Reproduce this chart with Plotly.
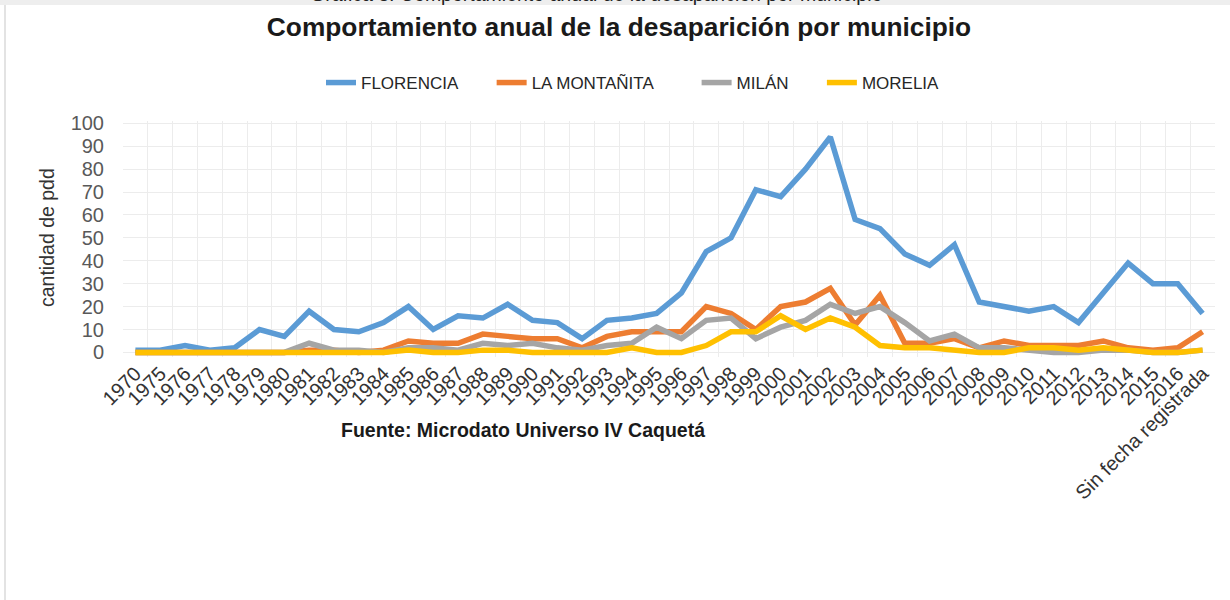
import plotly.graph_objects as go

categorias = ["1970", "1975", "1976", "1977", "1978", "1979", "1980", "1981", "1982", "1983",
              "1984", "1985", "1986", "1987", "1988", "1989", "1990", "1991", "1992", "1993",
              "1994", "1995", "1996", "1997", "1998", "1999", "2000", "2001", "2002", "2003",
              "2004", "2005", "2006", "2007", "2008", "2009", "2010", "2011", "2012", "2013",
              "2014", "2015", "2016", "Sin fecha registrada"]

florencia = [1, 1, 3, 1, 2, 10, 7, 18, 10, 9,
             13, 20, 10, 16, 15, 21, 14, 13, 6, 14,
             15, 17, 26, 44, 50, 71, 68, 80, 94, 58,
             54, 43, 38, 47, 22, 20, 18, 20, 13, 26,
             39, 30, 30, 17]
la_montanita = [0, 0, 0, 0, 0, 0, 0, 1, 1, 0,
                1, 5, 4, 4, 8, 7, 6, 6, 2, 7,
                9, 9, 9, 20, 17, 10, 20, 22, 28, 12,
                25, 4, 4, 6, 2, 5, 3, 3, 3, 5,
                2, 1, 2, 9]
milan = [0, 0, 0, 0, 0, 0, 0, 4, 1, 1,
         0, 2, 2, 1, 4, 3, 4, 2, 1, 3,
         4, 11, 6, 14, 15, 6, 11, 14, 21, 17,
         20, 13, 5, 8, 2, 2, 1, 0, 0, 1,
         1, 0, 0, 1]
morelia = [0, 0, 0, 0, 0, 0, 0, 0, 0, 0,
           0, 1, 0, 0, 1, 1, 0, 0, 0, 0,
           2, 0, 0, 3, 9, 9, 16, 10, 15, 11,
           3, 2, 2, 1, 0, 0, 2, 2, 1, 2,
           1, 0, 0, 1]

nombres = ["FLORENCIA", "LA MONTAÑITA", "MILÁN", "MORELIA"]
colores = ["#5B9BD5", "#ED7D31", "#A5A5A5", "#FFC000"]
valores = [florencia, la_montanita, milan, morelia]
relleno = [6, 8, 6, 0]

FONT = "Liberation Sans, Arial, sans-serif"

fig = go.Figure()
for nombre, vals, color, n in zip(nombres, valores, colores, relleno):
    fig.add_trace(go.Scatter(x=categorias, y=vals, name=nombre + "\u00a0" * n, mode="lines",
                             line=dict(color=color, width=5.5)))

W, H = 1230, 600
L, R, T, B = 123, 15, 121, 243
ph = H - T - B


def py(y):
    return (H - B - y) / ph


def px(x):
    return (x - L) / (W - L - R)


fig.update_layout(
    width=W, height=H,
    margin=dict(l=L, r=R, t=T, b=B, autoexpand=False),
    paper_bgcolor="white", plot_bgcolor="white",
    font=dict(family=FONT, color="#404040"),
    title=dict(text="<b>Comportamiento anual de la desaparición por municipio</b>",
               x=619 / W, xref="container", xanchor="center",
               y=1 - 27 / H, yref="container", yanchor="middle",
               font=dict(size=26.3, color="#1a1a1a", family=FONT)),
    legend=dict(orientation="h", x=321 / W, xref="container", xanchor="left",
                y=1 - 83 / H, yref="container", yanchor="middle",
                font=dict(size=17, color="#262626", family=FONT),
                itemwidth=30, traceorder="normal"),
    xaxis=dict(type="category", range=[-0.5, len(categorias) - 0.5],
               tickson="boundaries", showgrid=True, gridcolor="#ececec", gridwidth=1,
               tickangle=-45, ticks="", showline=False, zeroline=False,
               tickfont=dict(size=20, color="#333333", family=FONT)),
    yaxis=dict(range=[-2, 101], tickmode="array", tickvals=list(range(0, 101, 10)),
               showgrid=True, gridcolor="#ececec", gridwidth=1, zeroline=False,
               showline=False, ticks="", ticklabelstandoff=18,
               tickfont=dict(size=20, color="#595959", family=FONT)),
    showlegend=True,
)

fig.add_annotation(text="cantidad de pdd", xref="paper", yref="paper",
                   x=px(47), y=py(238), textangle=-90, showarrow=False,
                   xanchor="center", yanchor="middle",
                   font=dict(size=19.5, color="#333333", family=FONT))
fig.add_annotation(text="<b>Fuente: Microdato Universo IV Caquetá</b>", xref="paper", yref="paper",
                   x=px(523), y=py(430), showarrow=False, xanchor="center", yanchor="middle",
                   font=dict(size=19.5, color="#1a1a1a", family=FONT))

fig.add_shape(type="rect", xref="paper", yref="paper", x0=px(0), x1=px(W), y0=py(0), y1=py(5),
              line=dict(width=0), fillcolor="#eeeeee", layer="below")
fig.add_shape(type="line", xref="paper", yref="paper", x0=px(5), x1=px(5), y0=py(5), y1=py(H),
              line=dict(color="#e3e3e3", width=2), layer="below")

fig.add_annotation(text="Gráfica 3. Comportamiento anual de la desaparición por municipio",
                   xref="paper", yref="paper", x=px(596), y=py(7.5), showarrow=False,
                   xanchor="center", yanchor="bottom",
                   font=dict(size=19.5, color="#222222", family=FONT))

fig.write_html("out.html", config={"displayModeBar": False},
               post_script="document.body.style.margin='0px';")
